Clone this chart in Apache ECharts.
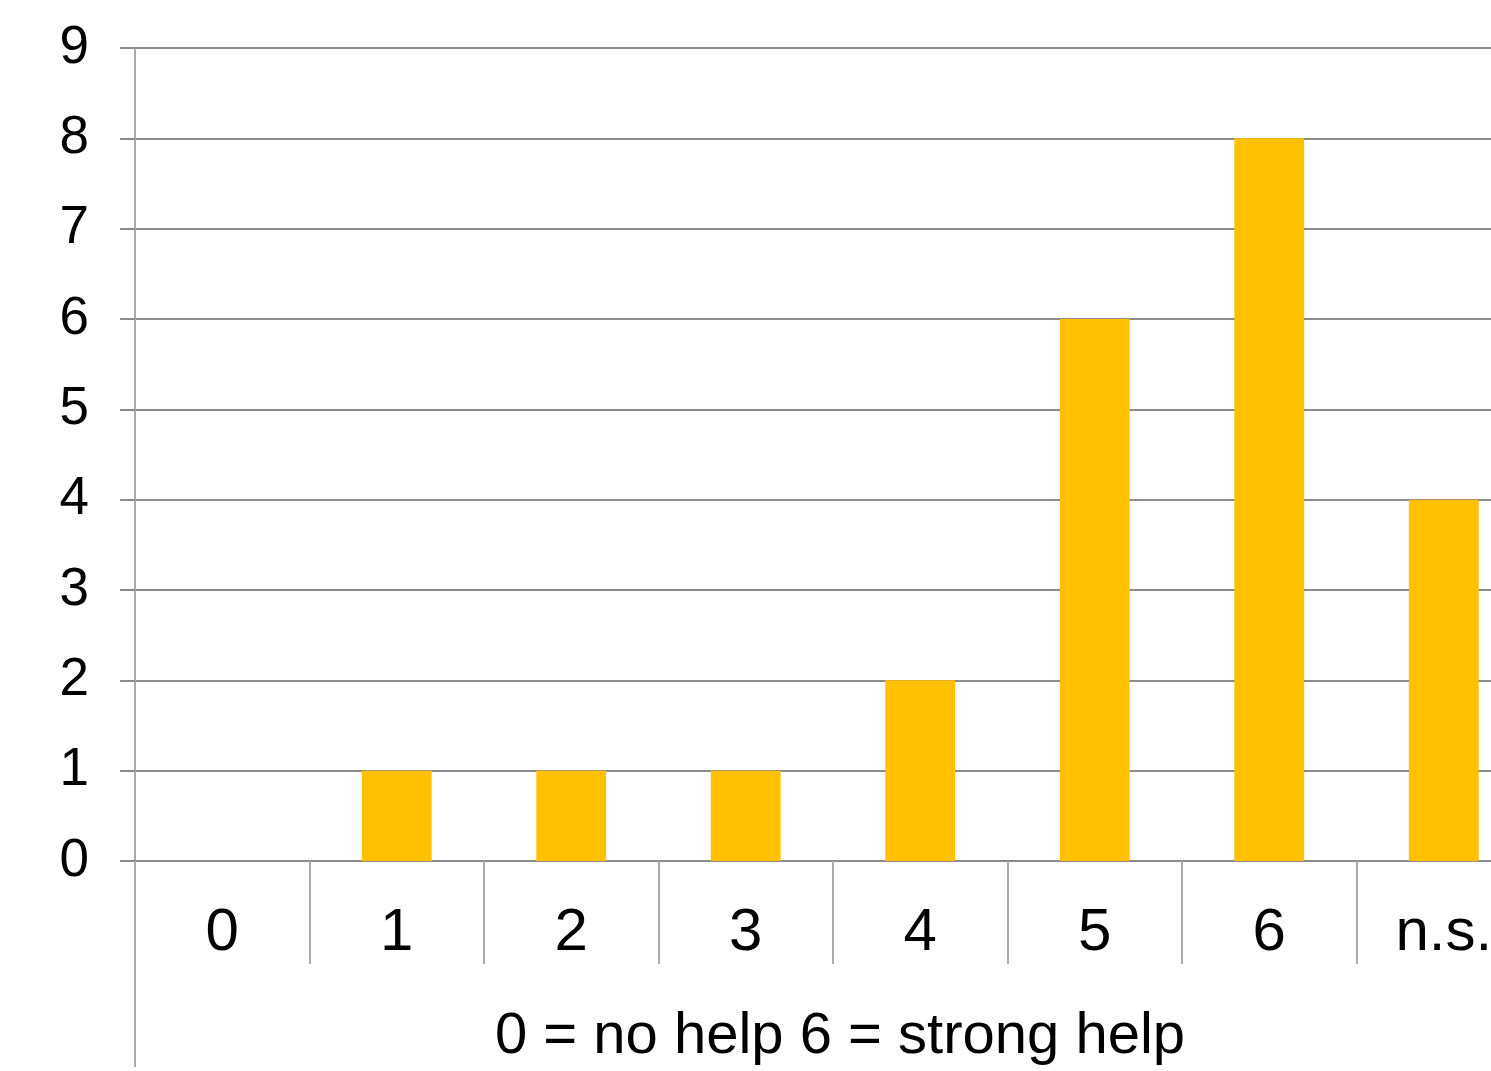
<!DOCTYPE html>
<html>
<head>
<meta charset="utf-8">
<script src="https://cdn.jsdelivr.net/npm/echarts@6/dist/echarts.min.js"></script>
<style>
  html, body { margin: 0; padding: 0; background: #ffffff; overflow: hidden; }
  /* the canvas is a little wider than the window: the last category band runs past the right edge */
  #chart { width: 1531px; height: 1071px; }
</style>
</head>
<body>
<div id="chart"></div>
<script>
// Ratings on a 0–6 scale plus "not specified"
const categories = ['0', '1', '2', '3', '4', '5', '6', 'n.s.'];
const counts = [0, 1, 1, 1, 2, 6, 8, 4];
const axisTitle = '0 = no help 6 = strong help';

const font = 'Liberation Sans, Arial, sans-serif';
const gridGray = '#8c8c8c';
const lightGray = '#ababab';

const chart = echarts.init(document.getElementById('chart'), null, { renderer: 'canvas' });

chart.setOption({
  animation: false,
  backgroundColor: '#ffffff',
  grid: { left: 135, top: 48, bottom: 209, right: 0, containLabel: false },
  xAxis: [
    {
      type: 'category',
      data: categories,
      boundaryGap: true,
      axisLine: { show: true, lineStyle: { color: gridGray, width: 2 } },
      axisTick: { show: true, length: 103, lineStyle: { color: lightGray, width: 2 } },
      axisLabel: { color: '#000', fontFamily: font, fontSize: 60, margin: 42 },
      name: axisTitle,
      nameLocation: 'middle',
      nameGap: 147,
      nameTextStyle: { color: '#000', fontFamily: font, fontSize: 58, padding: [0, 0, 0, 14] }
    },
    {
      // Extends the left boundary line below the category row
      type: 'category',
      data: categories,
      position: 'bottom',
      boundaryGap: true,
      axisLine: { show: false },
      axisTick: {
        show: true,
        length: 206,
        interval: function (index) { return index === 0; },
        lineStyle: { color: lightGray, width: 2 }
      },
      axisLabel: { show: false }
    }
  ],
  yAxis: {
    type: 'value',
    min: 0,
    max: 9,
    interval: 1,
    axisLine: { show: true, lineStyle: { color: lightGray, width: 2 } },
    axisTick: { show: true, length: 15, lineStyle: { color: gridGray, width: 2 } },
    splitLine: { show: true, lineStyle: { color: gridGray, width: 2 } },
    axisLabel: { color: '#000', fontFamily: font, fontSize: 53, margin: 46 }
  },
  series: [
    {
      type: 'bar',
      data: counts,
      barWidth: '40%',
      itemStyle: { color: '#ffc000' }
    }
  ]
});
</script>
</body>
</html>
